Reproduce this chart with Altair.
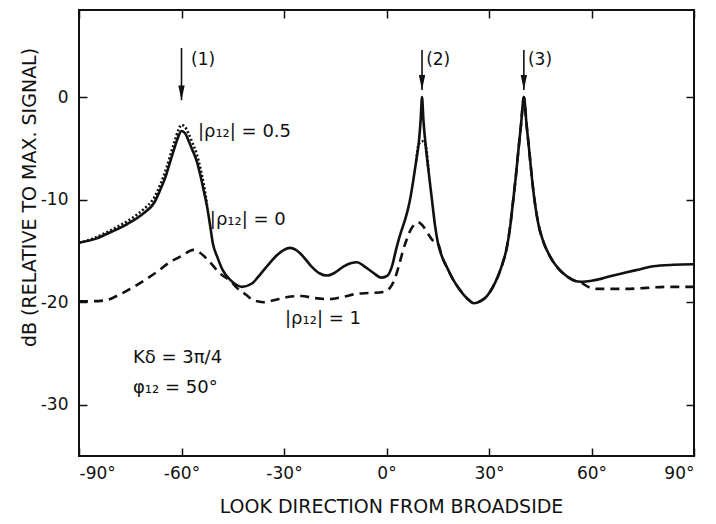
import altair as alt
import pandas as pd

# ---------------- data ----------------
# |rho12| = 0 (solid)
solid_deg = [-90, -85, -81, -76, -71, -68, -66.3, -64.5, -63.4, -62, -61, -60, -59, -58, -57,
             -55.5, -54.5, -53.5, -52.5, -51.5, -50.8, -49.5, -47.9, -45.5, -42.3, -39.5, -37,
             -34.5, -32, -30, -28.3, -26.5, -24.5, -22, -19.5, -17.4, -15, -12.5, -10.5, -8.6,
             -6.5, -4, -1.5, 0.3, 1.5, 3, 4.3, 5.4, 6.3, 7, 7.8, 8.7, 9.5, 10, 10.4, 10.8, 11.4,
             12.3, 13.3, 14.2, 15.1, 16.3, 17.7, 19.5, 21.5, 23.5, 25.6, 27.5, 29.4, 31, 32.6,
             34, 35.2, 36.2, 37, 37.8, 38.6, 39.4, 40.2, 41, 41.8, 42.6, 43.3, 44.4, 45.8, 47.8,
             50, 52.5, 55, 57, 60, 63, 66.3, 70, 74, 78, 84, 90]
solid_db = [-14.2, -13.8, -13.2, -12.4, -11.3, -10.3, -9.1, -7.6, -6.4, -4.9, -3.9, -3.3, -3.5,
            -4.2, -5.0, -6.3, -7.6, -9.1, -10.7, -12.8, -14.3, -15.6, -16.9, -17.9, -18.5, -18.2,
            -17.3, -16.3, -15.4, -14.9, -14.7, -14.9, -15.5, -16.5, -17.2, -17.4, -17.1, -16.5,
            -16.2, -16.1, -16.5, -17.1, -17.6, -17.4, -16.6, -14.6, -13.1, -12.0, -10.9, -9.8,
            -8.2, -6.2, -4.3, -2.2, 0.0, -2.2, -4.5, -7.2, -10.0, -12.5, -14.3, -15.6, -16.6,
            -17.8, -18.8, -19.6, -20.1, -19.9, -19.4, -18.6, -17.5, -16.2, -14.7, -12.6, -10.3,
            -7.9, -5.2, -2.6, 0.0, -2.7, -5.3, -8.0, -10.0, -12.3, -14.0, -15.5, -16.6, -17.4,
            -17.9, -18.0, -17.9, -17.7, -17.4, -17.1, -16.8, -16.5, -16.35, -16.3]

# |rho12| = 1 (dashed)
dashed_deg = [-90, -86, -82, -79, -75, -71, -67, -63.4, -60, -56.5, -54.5, -51.7, -48.7, -45.5,
              -43.8, -41, -39, -36, -33, -29, -25, -21, -17, -13, -9, -5, -1, 1, 2.2, 3.5, 4.8,
              6, 7.3, 8.3, 9.2, 10.2, 11.2, 12.3, 13.6, 15.1, 16.3, 17.7, 19.5, 21.5, 23.5, 25.6,
              27.5, 29.4, 31, 32.6, 34, 35.2, 36.2, 37, 37.8, 38.6, 39.4, 40.2, 41, 41.8, 42.6,
              43.3, 44.4, 45.8, 47.8, 50, 52.5, 55, 57, 59, 61.6, 65, 70, 76, 82, 90]
dashed_db = [-19.9, -19.9, -19.8, -19.4, -18.7, -17.9, -17.0, -16.1, -15.5, -14.9, -15.2, -16.1,
             -17.2, -18.0, -18.6, -19.3, -19.8, -20.0, -19.8, -19.5, -19.4, -19.6, -19.7, -19.5,
             -19.2, -19.1, -19.0, -18.6, -17.9, -16.6, -15.0, -13.8, -12.8, -12.4, -12.2, -12.4,
             -12.8, -13.4, -14.0, -14.3, -15.6, -16.6, -17.8, -18.8, -19.6, -20.1, -19.9, -19.4,
             -18.6, -17.5, -16.2, -14.7, -12.6, -10.3, -7.9, -5.2, -2.6, 0.0, -2.7, -5.3, -8.0,
             -10.0, -12.3, -14.0, -15.5, -16.6, -17.4, -17.9, -18.1, -18.5, -18.7, -18.7, -18.7,
             -18.6, -18.5, -18.5]

# |rho12| = 0.5 (dotted), visible near peak (1) and near peak (2)
dotted_deg_a = [-90, -86, -82, -78, -74, -71, -68, -66.3, -64.5, -63.4, -62, -61, -60, -59, -58,
                -57, -55.5, -54.5, -53.5, -52.5]
dotted_db_a = [-14.2, -13.8, -13.2, -12.5, -11.7, -10.9, -9.8, -8.6, -7.0, -5.8, -4.3, -3.3, -2.7,
               -2.9, -3.5, -4.3, -5.6, -6.9, -8.5, -10.5]
dotted_deg_b = [8.7, 9.4, 10.4, 11.4, 12.3]
dotted_db_b = [-6.2, -4.6, -4.3, -4.6, -7.2]

# axis ticks
x_ticks = [-90, -60, -30, 0, 30, 60, 90]
y_ticks = [-30, -20, -10, 0]

# arrows marking the sources
arrow_deg = [-60, 10.4, 40.2]
arrow_top = [4.8, 4.6, 4.6]
arrow_tip = [-0.3, 0.7, 0.7]
arrow_text = ["(1)", "(2)", "(3)"]
arrow_text_deg = [-57.2, 11.6, 41.4]
arrow_text_db = [3.6, 3.6, 3.6]

# text annotations
note_text = ["|ρ₁₂| = 0.5", "|ρ₁₂| = 0", "|ρ₁₂| = 1", "Kδ = 3π/4", "φ₁₂ = 50°"]
note_deg = [-55.2, -51.7, -29.7, -74.2, -74.2]
note_db = [-3.4, -12.0, -21.6, -25.4, -28.4]

# ---------------- tables ----------------
solid_df = pd.DataFrame({"deg": solid_deg, "db": solid_db, "i": range(len(solid_deg))})
dashed_df = pd.DataFrame({"deg": dashed_deg, "db": dashed_db, "i": range(len(dashed_deg))})
dotted_df = pd.concat([
    pd.DataFrame({"deg": dotted_deg_a, "db": dotted_db_a, "seg": "a"}),
    pd.DataFrame({"deg": dotted_deg_b, "db": dotted_db_b, "seg": "b"}),
], ignore_index=True)
dotted_df["i"] = range(len(dotted_df))
arrow_df = pd.DataFrame({"deg": arrow_deg, "top": arrow_top, "tip": arrow_tip})
arrow_lbl = pd.DataFrame({"deg": arrow_text_deg, "db": arrow_text_db, "t": arrow_text})
note_df = pd.DataFrame({"deg": note_deg, "db": note_db, "t": note_text})

FONT = "DejaVu Sans"
INK = "#111111"
xscale = alt.Scale(domain=[-90, 90], nice=False, zero=False)
yscale = alt.Scale(domain=[-35, 8.5], nice=False, zero=False)

x_bottom = alt.Axis(values=x_ticks, labelExpr="datum.value + '°'", grid=False, domain=False,
                    tickSize=8, offset=-8, tickWidth=1.5, tickColor=INK, labelPadding=9,
                    labelFontSize=17, labelFont=FONT, labelColor=INK,
                    title="LOOK DIRECTION FROM BROADSIDE", titleFont=FONT, titleFontSize=19,
                    titleFontWeight="normal", titleColor=INK, titleY=58, titleBaseline="middle",
                    titleX=312, titleAnchor="start", titleAlign="center")
y_left = alt.Axis(values=y_ticks, labelExpr="'' + datum.value", grid=False, domain=False,
                  tickSize=8, offset=-8, tickWidth=1.5, tickColor=INK, labelPadding=11,
                  labelFontSize=17, labelFont=FONT, labelColor=INK,
                  title="dB (RELATIVE TO MAX. SIGNAL)", titleFont=FONT, titleFontSize=19,
                  titleFontWeight="normal", titleColor=INK, titleX=-58, titleY=187,
                  titleBaseline="middle", titleAlign="center", titleAngle=-90)
x_top = alt.Axis(orient="top", values=x_ticks, labels=False, grid=False, domain=False,
                 tickSize=8, offset=-8, tickWidth=1.5, tickColor=INK, title=None)
y_right = alt.Axis(orient="right", values=y_ticks, labels=False, grid=False, domain=False,
                   tickSize=8, offset=-8, tickWidth=1.5, tickColor=INK, title=None)

solid = alt.Chart(solid_df).mark_line(color=INK, strokeWidth=2.6, interpolate="monotone").encode(
    x=alt.X("deg:Q", scale=xscale, axis=x_bottom),
    y=alt.Y("db:Q", scale=yscale, axis=y_left),
    order="i:Q",
)
dashed = alt.Chart(dashed_df).mark_line(color=INK, strokeWidth=2.6, strokeDash=[9, 6],
                                        interpolate="monotone").encode(
    x=alt.X("deg:Q", scale=xscale, axis=x_top),
    y=alt.Y("db:Q", scale=yscale, axis=y_right),
    order="i:Q",
)
dotted = alt.Chart(dotted_df).mark_line(color=INK, strokeWidth=2.6, strokeDash=[2, 2.2],
                                        interpolate="monotone").encode(
    x=alt.X("deg:Q", scale=xscale, axis=None),
    y=alt.Y("db:Q", scale=yscale, axis=None),
    detail="seg:N",
    order="i:Q",
)
shafts = alt.Chart(arrow_df).mark_rule(color=INK, strokeWidth=1.6).encode(
    x=alt.X("deg:Q", scale=xscale, axis=None),
    y=alt.Y("top:Q", scale=yscale, axis=None),
    y2="tip:Q",
)
heads = alt.Chart(arrow_df).mark_point(shape="M-0.45,-2.1L0,0L0.45,-2.1Z", filled=True,
                                       color=INK, size=200, opacity=1).encode(
    x=alt.X("deg:Q", scale=xscale, axis=None),
    y=alt.Y("tip:Q", scale=yscale, axis=None),
)
arrow_labels = alt.Chart(arrow_lbl).mark_text(align="left", baseline="middle", font=FONT,
                                              fontSize=17, color=INK).encode(
    x=alt.X("deg:Q", scale=xscale, axis=None),
    y=alt.Y("db:Q", scale=yscale, axis=None),
    text="t:N",
)
notes = alt.Chart(note_df).mark_text(align="left", baseline="middle", font=FONT,
                                     fontSize=18, color=INK).encode(
    x=alt.X("deg:Q", scale=xscale, axis=None),
    y=alt.Y("db:Q", scale=yscale, axis=None),
    text="t:N",
)

chart = (
    alt.layer(solid, dashed, dotted, shafts, heads, arrow_labels, notes)
    .resolve_axis(x="independent", y="independent")
    .properties(width=615, height=446, autosize=alt.AutoSizeParams(type="none"),
                padding={"left": 71, "top": 2, "right": 14, "bottom": 60}, background="white")
    .configure_view(stroke=INK, strokeWidth=2)
)

chart.save("out.html", embed_options={"renderer": "svg", "actions": False})
